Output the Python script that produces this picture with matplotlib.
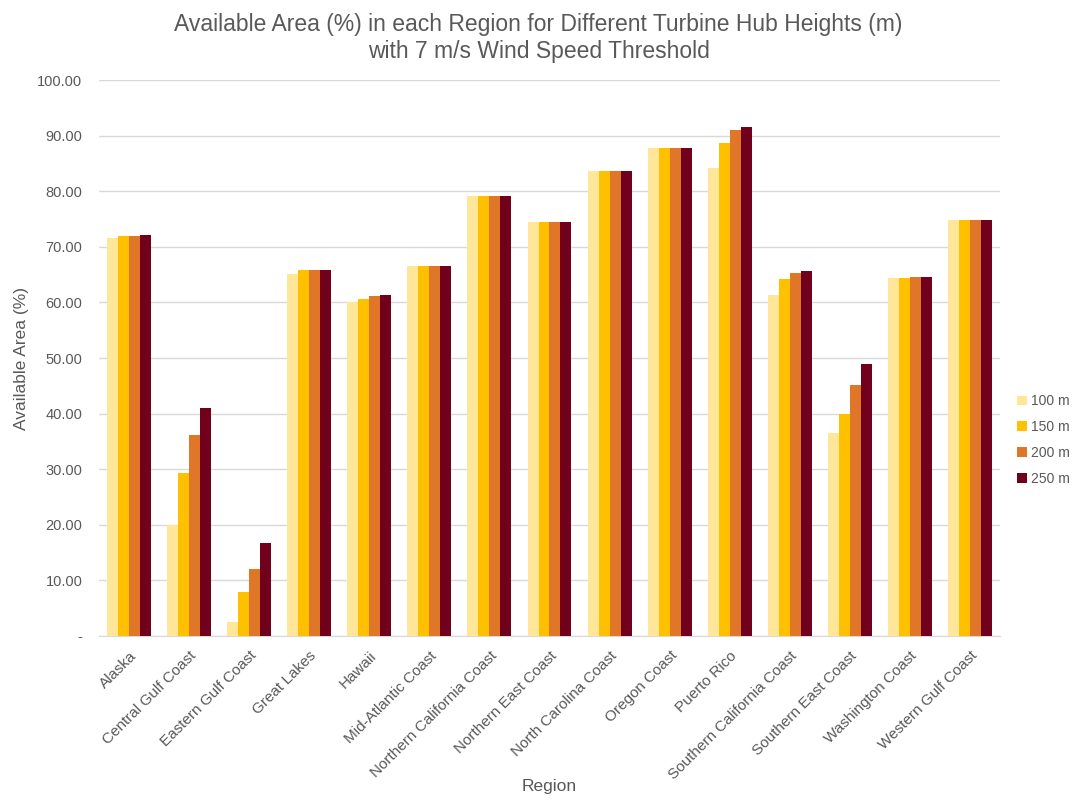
import numpy as np
import matplotlib.pyplot as plt

plt.rcParams['font.family'] = ['Liberation Sans', 'DejaVu Sans']

regions = ['Alaska', 'Central Gulf Coast', 'Eastern Gulf Coast', 'Great Lakes', 'Hawaii',
           'Mid-Atlantic Coast', 'Northern California Coast', 'Northern East Coast',
           'North Carolina Coast', 'Oregon Coast', 'Puerto Rico', 'Southern California Coast',
           'Southern East Coast', 'Washington Coast', 'Western Gulf Coast']

h100 = [71.6, 20.0, 2.6, 65.1, 60.0, 66.5, 79.2, 74.5, 83.7, 87.8, 84.1, 61.3, 36.5, 64.3, 74.9]
h150 = [71.9, 29.3, 7.9, 65.8, 60.6, 66.5, 79.2, 74.5, 83.7, 87.8, 88.7, 64.2, 40.0, 64.4, 74.9]
h200 = [72.0, 36.1, 12.1, 65.8, 61.1, 66.5, 79.2, 74.5, 83.7, 87.8, 91.0, 65.2, 45.2, 64.5, 74.9]
h250 = [72.1, 41.0, 16.7, 65.8, 61.4, 66.5, 79.2, 74.5, 83.7, 87.8, 91.6, 65.6, 48.9, 64.5, 74.9]

series = [h100, h150, h200, h250]
labels = ['100 m', '150 m', '200 m', '250 m']
colors = ['#FFE699', '#FFC000', '#E07628', '#70001C']

fig = plt.figure(figsize=(10.77, 8.01), dpi=100)
ax = fig.add_axes([99 / 1077, 1 - 636 / 801, 901 / 1077, 556 / 801])

x = np.arange(len(regions))
w = 0.183
for i, (vals, lab, col) in enumerate(zip(series, labels, colors)):
    ax.bar(x + (i - 1.5) * w, vals, w, color=col, label=lab, zorder=3)

ax.set_xlim(-0.5, len(regions) - 0.5)
ax.set_ylim(0, 100)
yt = np.arange(0, 101, 10)
ax.set_yticks(yt)
ax.set_yticklabels(['-'] + [f'{v:.2f}' for v in yt[1:]])
ax.set_xticks(x)
ax.set_xticklabels(regions, rotation=45, ha='right', rotation_mode='anchor', fontsize=11)

ax.grid(axis='y', color='#D9D9D9', linewidth=1, zorder=0)
for s in ['top', 'right', 'left']:
    ax.spines[s].set_visible(False)
ax.spines['bottom'].set_color('#D9D9D9')
ax.tick_params(axis='both', length=0, colors='#595959')
ax.tick_params(axis='y', pad=12, labelsize=10.5)
ax.tick_params(axis='x', pad=9)

ax.set_xlabel('Region', fontsize=12.5, color='#595959')
ax.xaxis.set_label_coords(0.5, -0.258)
ax.set_ylabel('Available Area (%)', fontsize=12.5, color='#595959')
ax.yaxis.set_label_coords(-0.078, 0.5)
fig.suptitle('Available Area (%) in each Region for Different Turbine Hub Heights (m)\n'
             'with 7 m/s Wind Speed Threshold', fontsize=16.5, color='#595959', y=0.984,
             linespacing=1.25)

leg = ax.legend(loc='center left', bbox_to_anchor=(1017 / 1077, 1 - 440 / 801),
                bbox_transform=fig.transFigure, frameon=False, borderpad=0, borderaxespad=0,
                fontsize=10, handlelength=0.7, handleheight=0.7, handletextpad=0.3,
                labelspacing=0.85, labelcolor='#595959')

fig.savefig('out.png', dpi=100)
